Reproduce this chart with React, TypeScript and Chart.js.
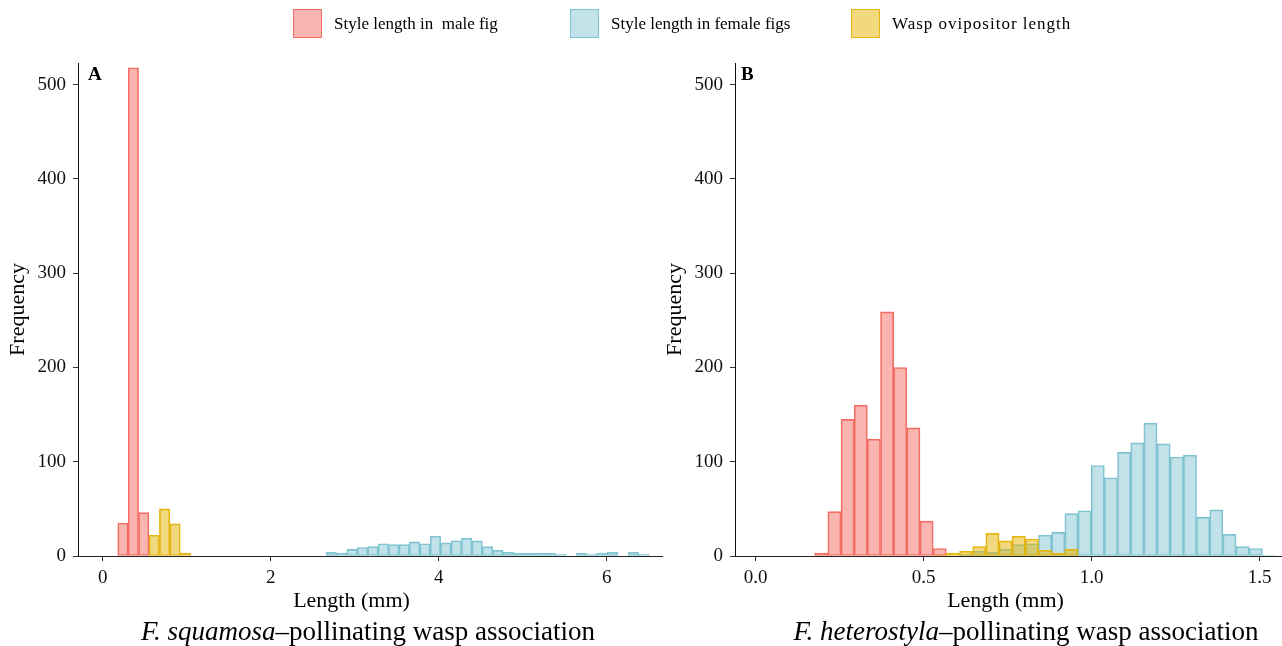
import React, { useEffect, useRef } from "react";
import { Chart, registerables } from "chart.js";

Chart.register(...registerables);

const FONT = '"Liberation Serif", "Times New Roman", Times, serif';

// Series (legend order)
const seriesLabels = ["Style length in  male fig", "Style length in female figs", "Wasp ovipositor length"];
const seriesBorder = ["rgb(242,110,100)", "rgb(128,196,210)", "rgb(229,182,22)"];
const seriesFill = ["rgba(245,107,97,0.5)", "rgba(131,197,209,0.5)", "rgba(229,180,0,0.5)"];

// Shared y axis
const yTicks = [0, 100, 200, 300, 400, 500];
const yMax = 523;

// Panel A: F. squamosa (bin index = first + i)
const binStartA = 0.179;
const binWidthA = 0.124;
const maleFirstA = 0;
const maleA = [35, 518, 46];
const femaleFirstA = 20;
const femaleA = [4, 3, 7, 9, 10, 13, 12, 12, 15, 13, 21, 14, 16, 19, 16, 10, 6, 4, 3, 3, 3, 3, 2, 0, 3, 2, 3, 4, 0, 4, 2];
const waspFirstA = 3;
const waspA = [22, 50, 34, 3];
const xTicksA = [0, 2, 4, 6];
const xRangeA = [-0.294, 6.658];

// Panel B: F. heterostyla
const binStartB = 0.1756;
const binWidthB = 0.0392;
const maleFirstB = 0;
const maleB = [3, 47, 145, 160, 124, 259, 200, 136, 37, 8];
const femaleFirstB = 11;
const femaleB = [2, 5, 4, 7, 12, 13, 22, 25, 45, 48, 96, 83, 110, 120, 141, 119, 105, 107, 41, 49, 23, 10, 8, 1];
const waspFirstB = 9;
const waspB = [1, 3, 5, 10, 24, 16, 21, 18, 6, 3, 7];
const xTicksB = [0, 0.5, 1.0, 1.5];
const xRangeB = [-0.0616, 1.677];

const xTitle = "Length (mm)";
const yTitle = "Frequency";

const toPoints = (counts: number[], first: number, start: number, width: number) =>
  counts.map((c, i) => ({ x: start + (first + i + 0.5) * width, y: c }));

type PanelCfg = {
  letter: string;
  letterDx: number;
  binStart: number;
  binWidth: number;
  series: { counts: number[]; first: number }[];
  xTicks: number[];
  xRange: number[];
  decimals: number;
  rightPad: number;
};

function makeChart(canvas: HTMLCanvasElement, p: PanelCfg) {
  const letterPlugin = {
    id: "panelLetter",
    afterDraw(chart: any) {
      const { ctx, chartArea } = chart;
      ctx.save();
      ctx.font = `bold 19px ${FONT}`;
      ctx.fillStyle = "#000";
      ctx.textBaseline = "alphabetic";
      ctx.fillText(p.letter, chartArea.left + p.letterDx, chartArea.top + 17);
      ctx.restore();
    },
  };
  const orders = [3, 2, 1];
  return new Chart(canvas, {
    type: "bar",
    data: {
      datasets: p.series.map((s, i) => ({
        label: seriesLabels[i],
        data: toPoints(s.counts, s.first, p.binStart, p.binWidth),
        backgroundColor: seriesFill[i],
        borderColor: seriesBorder[i],
        borderWidth: 1,
        borderSkipped: false,
        grouped: false,
        barPercentage: 1,
        categoryPercentage: 1,
        order: orders[i],
      })) as any,
    },
    options: {
      animation: false,
      responsive: false,
      maintainAspectRatio: false,
      layout: { padding: { top: 63, right: p.rightPad, bottom: 33, left: 0 } },
      plugins: { legend: { display: false }, tooltip: { enabled: false } },
      scales: {
        x: {
          type: "linear",
          min: p.xRange[0],
          max: p.xRange[1],
          offset: false,
          afterFit: (s: any) => {
            s.height = 57;
          },
          afterBuildTicks: (s: any) => {
            s.ticks = p.xTicks.map((v) => ({ value: v }));
          },
          ticks: {
            font: { family: FONT, size: 19 },
            color: "#111",
            padding: 6,
            callback: (v: any) => Number(v).toFixed(p.decimals),
          },
          grid: { display: true, drawOnChartArea: false, drawTicks: true, tickLength: 5, color: "#333", offset: false },
          border: { display: true, color: "#222", width: 1 },
          title: { display: false },
        },
        y: {
          type: "linear",
          min: 0,
          max: yMax,
          afterFit: (s: any) => {
            s.width = 78;
          },
          afterBuildTicks: (s: any) => {
            s.ticks = yTicks.map((v) => ({ value: v }));
          },
          ticks: { font: { family: FONT, size: 19 }, color: "#111", padding: 7 },
          grid: { display: true, drawOnChartArea: false, drawTicks: true, tickLength: 5, color: "#333" },
          border: { display: true, color: "#111", width: 1 },
          title: {
            display: true,
            text: yTitle,
            font: { family: FONT, size: 22 },
            color: "#000",
            padding: { top: 5, bottom: 0 },
          },
        },
      },
    },
    plugins: [letterPlugin],
  } as any);
}

export default function App() {
  const refA = useRef<HTMLCanvasElement>(null);
  const refB = useRef<HTMLCanvasElement>(null);

  useEffect(() => {
    const a = makeChart(refA.current!, {
      letter: "A",
      letterDx: 10,
      binStart: binStartA,
      binWidth: binWidthA,
      series: [
        { counts: maleA, first: maleFirstA },
        { counts: femaleA, first: femaleFirstA },
        { counts: waspA, first: waspFirstA },
      ],
      xTicks: xTicksA,
      xRange: xRangeA,
      decimals: 0,
      rightPad: 4,
    });
    const b = makeChart(refB.current!, {
      letter: "B",
      letterDx: 6,
      binStart: binStartB,
      binWidth: binWidthB,
      series: [
        { counts: maleB, first: maleFirstB },
        { counts: femaleB, first: femaleFirstB },
        { counts: waspB, first: waspFirstB },
      ],
      xTicks: xTicksB,
      xRange: xRangeB,
      decimals: 1,
      rightPad: 8,
    });
    return () => {
      a.destroy();
      b.destroy();
    };
  }, []);

  const legendLeft = [293, 570, 851];
  const legendSpacing = [0, 0, 1];
  const subStyle: React.CSSProperties = {
    position: "absolute",
    top: 615,
    width: 584,
    textAlign: "center",
    fontFamily: FONT,
    fontSize: 27,
    lineHeight: "32px",
    color: "#000",
    whiteSpace: "nowrap",
  };
  const xTitleStyle: React.CSSProperties = {
    position: "absolute",
    top: 587,
    width: 300,
    textAlign: "center",
    fontFamily: FONT,
    fontSize: 22,
    lineHeight: "26px",
    color: "#000",
    whiteSpace: "nowrap",
  };

  return (
    <div style={{ position: "fixed", left: 0, top: 0, width: 1282, height: 646, overflow: "hidden", background: "#fff" }}>
      <canvas ref={refA} width={666} height={646} style={{ position: "absolute", left: 0, top: 0, width: 666, height: 646 }} />
      <canvas ref={refB} width={670} height={646} style={{ position: "absolute", left: 657, top: 0, width: 670, height: 646 }} />
      {seriesLabels.map((lab, i) => (
        <div
          key={lab}
          style={{ position: "absolute", left: legendLeft[i], top: 9, height: 29, display: "flex", alignItems: "center", fontFamily: FONT, fontSize: 17, color: "#000" }}
        >
          <div style={{ width: 27, height: 27, border: `1px solid ${seriesBorder[i]}`, background: seriesFill[i], marginRight: 12 }} />
          <span style={{ whiteSpace: "pre", letterSpacing: legendSpacing[i] }}>{lab}</span>
        </div>
      ))}
      <div style={{ ...xTitleStyle, left: 351.5 - 150 }}>{xTitle}</div>
      <div style={{ ...xTitleStyle, left: 1005.5 - 150 }}>{xTitle}</div>
      <div style={{ ...subStyle, left: 76 }}>
        <i>F. squamosa</i>–pollinating wasp association
      </div>
      <div style={{ ...subStyle, left: 734 }}>
        <i>F. heterostyla</i>–pollinating wasp association
      </div>
    </div>
  );
}
